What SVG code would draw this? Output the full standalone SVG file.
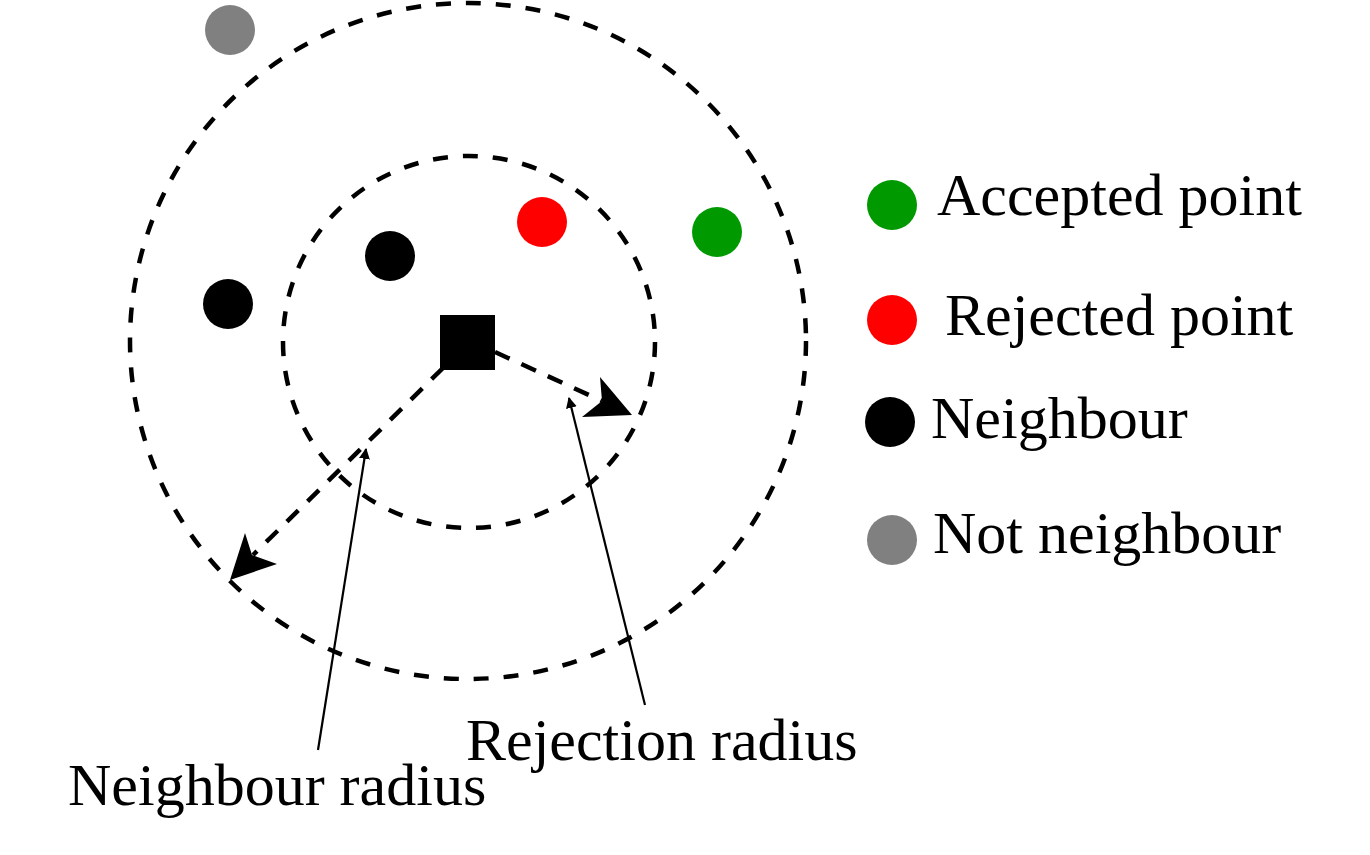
<svg xmlns="http://www.w3.org/2000/svg" width="1370" height="855" viewBox="0 0 1370 855">
<style>
.ring{fill:none;stroke:#000;stroke-width:4.5;stroke-dasharray:15 15}
.dash{fill:none;stroke:#000;stroke-width:4.5;stroke-dasharray:16 13}
.thin{fill:none;stroke:#000;stroke-width:2.2}
.head{fill:#000}
.lbl{font-family:"Liberation Serif","Times New Roman",serif;font-size:60px;fill:#000}
</style>
<defs>
<marker id="tip" viewBox="0 0 10 10" refX="9" refY="5" markerWidth="5" markerHeight="5" orient="auto" markerUnits="strokeWidth">
<path d="M0,0 L10,5 L0,10 Z" fill="#000"/>
</marker>
</defs>
<rect width="1370" height="855" fill="#fff"/>
<g id="outer-circle"><circle class="ring" cx="468" cy="341" r="338"/></g>
<g id="inner-circle"><circle class="ring" cx="469" cy="342" r="186"/></g>
<g id="center"><rect x="440" y="315" width="55" height="55" fill="#000"/></g>
<g id="p-gray"><circle cx="230" cy="30" r="25" fill="#808080"/></g>
<g id="p-red"><circle cx="542" cy="222" r="25" fill="#ff0000"/></g>
<g id="p-green"><circle cx="717" cy="232" r="25" fill="#009900"/></g>
<g id="p-black1"><circle cx="390" cy="256" r="25" fill="#000"/></g>
<g id="p-black2"><circle cx="228" cy="304" r="25" fill="#000"/></g>
<g id="connectors">
<line class="dash" x1="443" y1="368" x2="253" y2="555"/>
<polygon class="head" points="230,580 245,533 252,555 277,564"/>
<line class="dash" x1="495" y1="352" x2="602" y2="401"/>
<polygon class="head" points="632,415 600,377 602,401 582,417"/>
<line class="thin" x1="318" y1="750" x2="366" y2="449" marker-end="url(#tip)"/>
<line class="thin" x1="645" y1="705" x2="569" y2="398" marker-end="url(#tip)"/>
</g>
<g id="legend-accepted"><circle cx="892" cy="205" r="25" fill="#009900"/><text class="lbl" x="937" y="215">Accepted point</text></g>
<g id="legend-rejected"><circle cx="892" cy="320" r="25" fill="#ff0000"/><text class="lbl" x="945" y="335">Rejected point</text></g>
<g id="legend-neighbour"><circle cx="890" cy="422" r="25" fill="#000"/><text class="lbl" x="931" y="438">Neighbour</text></g>
<g id="legend-not"><circle cx="892" cy="540" r="25" fill="#808080"/><text class="lbl" x="933" y="553">Not neighbour</text></g>
<g id="label-rejection"><text class="lbl" x="466" y="760">Rejection radius</text></g>
<g id="label-neighbour"><text class="lbl" x="68" y="805">Neighbour radius</text></g>
</svg>
